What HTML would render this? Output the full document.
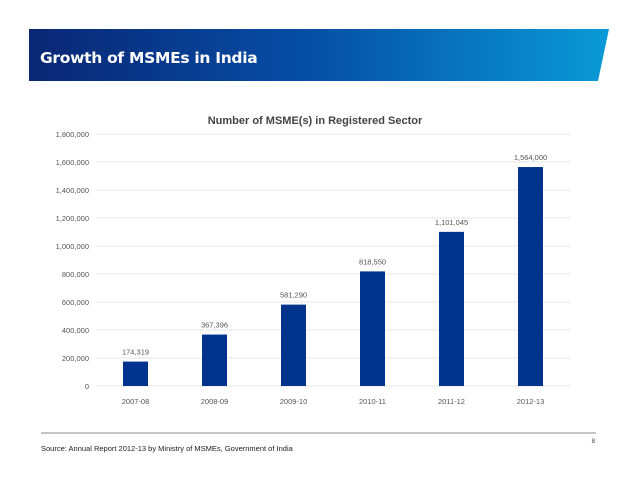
<!DOCTYPE html>
<html><head><meta charset="utf-8"><style>
body{margin:0;width:638px;height:493px;background:#fff;overflow:hidden;font-family:"Liberation Sans",sans-serif}
</style></head><body>
<svg width="638" height="493">
<defs><linearGradient id="g" x1="0" x2="1"><stop offset="0" stop-color="#0a2674"/><stop offset="0.5" stop-color="#0650a8"/><stop offset="1" stop-color="#0a9ad6"/></linearGradient></defs>
<polygon points="29,29 609,29 598,81 29,81" fill="url(#g)"/>
<text x="40" y="63" fill="#fff" font-size="15.5" font-weight="bold" font-family="DejaVu Sans, sans-serif" letter-spacing="-0.3">Growth of MSMEs in India</text>
<text x="315" y="124" text-anchor="middle" fill="#444" font-size="11" font-weight="bold">Number of MSME(s) in Registered Sector</text>
<g id="chart"></g>
<line x1="41" y1="433" x2="596" y2="433" stroke="#888" stroke-width="1"/>
<text x="41" y="451" fill="#222" font-size="7.5">Source: Annual Report 2012-13 by Ministry of MSMEs, Government of India</text>
<text x="595" y="443" text-anchor="end" fill="#333" font-size="6">8</text>
</svg>
<script>
const categories=["2007-08","2008-09","2009-10","2010-11","2011-12","2012-13"];
const values=[174319,367396,581290,818550,1101045,1564000];
const valueLabels=["174,319","367,396","581,290","818,550","1,101,045","1,564,000"];
const ticks=[0,200000,400000,600000,800000,1000000,1200000,1400000,1600000,1800000];
const ns="http://www.w3.org/2000/svg";
const g=document.getElementById('chart');
const x0=96,x1=570,yBase=386,yTop=134,yMax=1800000;
const y=v=>yBase-(v/yMax)*(yBase-yTop);
const band=(x1-x0)/categories.length;
function mk(t,a,txt){const e=document.createElementNS(ns,t);for(const k in a)e.setAttribute(k,a[k]);if(txt!==undefined)e.textContent=txt;g.appendChild(e);return e;}
ticks.forEach(t=>{
 const l=mk('line',{x1:x0,x2:x1,y1:y(t),y2:y(t),stroke:'#e4e4e4','stroke-width':1});
 
 
 const tx=mk('text',{x:89,y:y(t)+3,'text-anchor':'end','font-size':7.5,fill:'#555'},t.toLocaleString('en-US'));
 
 
});
categories.forEach((c,i)=>{
 const cx=x0+band*(i+0.5);
 const r=mk('rect',{x:cx-12.5,y:y(values[i]),width:25,height:yBase-y(values[i]),fill:'#00338d'});
 
 
 const vl=mk('text',{x:cx,y:y(values[i])-7,'text-anchor':'middle','font-size':7.5,fill:'#555'},valueLabels[i]);
 
 
 const xl=mk('text',{x:cx,y:404,'text-anchor':'middle','font-size':7.5,fill:'#555'},c);
 
 
});
</script>
</body></html>
